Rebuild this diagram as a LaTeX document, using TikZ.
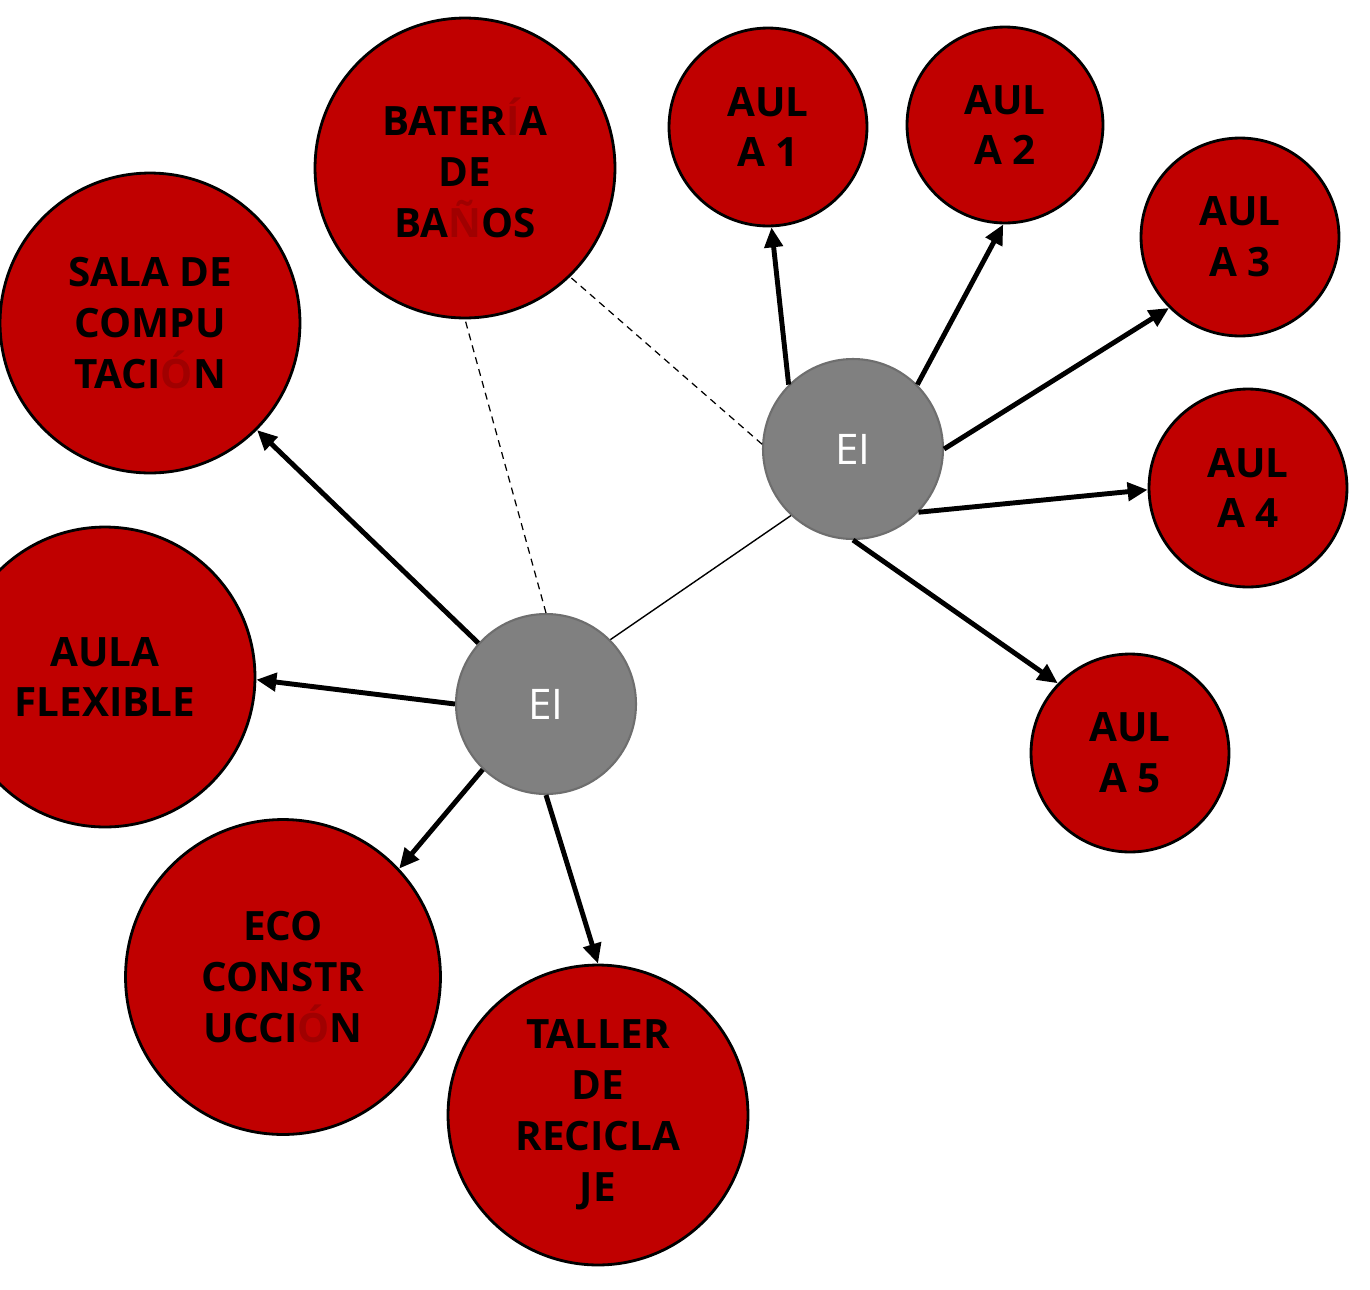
\documentclass[tikz,border=0pt]{standalone}
\usepackage{fontspec}
\setmainfont{Open Sans}
\usetikzlibrary{arrows.meta}
\definecolor{roomred}{HTML}{C00000}
\definecolor{accentred}{HTML}{A00000}
\definecolor{hubgray}{HTML}{808080}
\definecolor{hubedge}{HTML}{6E6E6E}
\newcommand{\dimacc}[1]{\textcolor{accentred}{#1}}

\begin{document}
\begin{tikzpicture}[x=0.02cm,y=-0.02cm,
  room/.style={circle,draw=black,line width=1.6pt,fill=roomred,inner sep=0pt,
    align=center,text=black,font=\fontsize{23}{29}\selectfont\bfseries},
  hub/.style={circle,draw=hubedge,line width=1.2pt,fill=hubgray,inner sep=0pt,
    text=white,font=\fontsize{24}{28}\selectfont},
  link/.style={line width=2.8pt,-{Triangle[length=0.4cm,width=0.36cm]}},
  tie/.style={line width=0.8pt},
  softdash/.style={line width=0.7pt,dash pattern=on 4pt off 3pt}]

\useasboundingbox (0,0) rectangle (1370,1289);
\clip (0,0) rectangle (1370,1289);

% rooms
\node[room,minimum size=6cm]    (banos)  at (465,168)  {BATER\dimacc{Í}A\\DE\\BA\dimacc{Ñ}OS};
\node[room,minimum size=3.96cm] (a1)     at (768,127)  {AUL\\A 1};
\node[room,minimum size=3.92cm] (a2)     at (1005,125) {AUL\\A 2};
\node[room,minimum size=3.96cm] (a3)     at (1240,237) {AUL\\A 3};
\node[room,minimum size=3.96cm] (a4)     at (1248,488) {AUL\\A 4};
\node[room,minimum size=3.96cm] (a5)     at (1130,753) {AUL\\A 5};
\node[room,minimum size=6cm]    (sala)   at (150,323)  {SALA DE\\COMPU\\TACI\dimacc{Ó}N};
\node[room,minimum size=6cm]    (flex)   at (105,677)  {AULA\\FLEXIBLE};
\node[room,minimum size=6.3cm]  (eco)    at (283,977)  {ECO\\CONSTR\\UCCI\dimacc{Ó}N};
\node[room,minimum size=6cm]    (taller) at (598,1115) {TALLER\\DE\\RECICLA\\JE};

% hubs
\node[hub,minimum size=3.6cm] (eiR) at (853,449) {EI};
\node[hub,minimum size=3.6cm] (eiL) at (546,704) {EI};

% links between hubs and the shared block
\draw[tie] (eiR.227) -- (eiL.45);
\draw[softdash] (eiR.177) -- (banos.-46);
\draw[softdash] (eiL.90) -- (banos.270);

% right hub
\draw[link] (eiR.135) -- (a1.272);
\draw[link] (eiR.45)  -- (a2.269);
\draw[link] (eiR.0)   -- (a3.225);
\draw[link] (eiR.-44) -- (a4.181);
\draw[link] (eiR.-90) -- (a5.136);

% left hub
\draw[link] (eiL.138) -- (sala.-45);
\draw[link] (eiL.180) -- (flex.-1);
\draw[link] (eiL.226) -- (eco.43);
\draw[link] (eiL.-90) -- (taller.90);
\end{tikzpicture}
\end{document}
